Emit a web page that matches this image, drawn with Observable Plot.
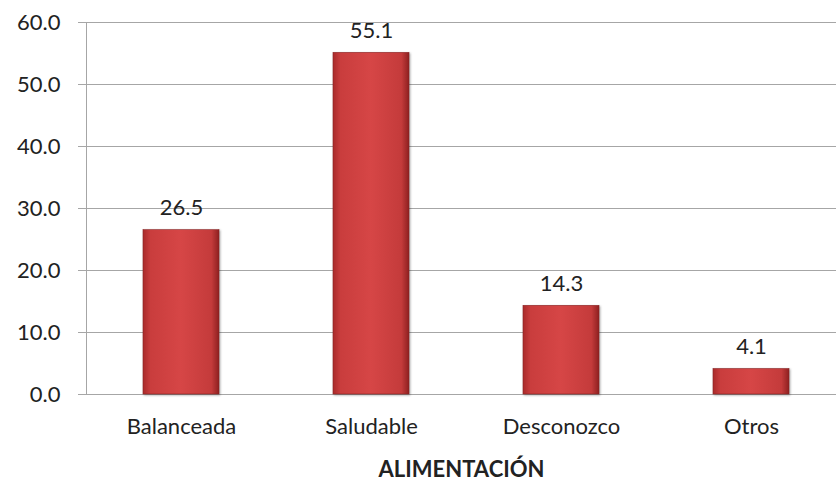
<!DOCTYPE html>
<html>
<head>
<meta charset="utf-8">
<script src="https://cdn.jsdelivr.net/npm/d3@7"></script>
<script src="https://cdn.jsdelivr.net/npm/@observablehq/plot@0.6"></script>
<style>
  html, body { margin: 0; padding: 0; background: #fff; }
  #chart { width: 836px; height: 480px; overflow: hidden; }
  .bars rect { filter: drop-shadow(1px 1px 1px rgba(0,0,0,0.35)); }
</style>
</head>
<body>
<div id="chart"></div>
<script>
const categories = ["Balanceada", "Saludable", "Desconozco", "Otros"];
const values = [26.5, 55.1, 14.3, 4.1];
const yTicks = [0, 10, 20, 30, 40, 50, 60];
const xTitle = "ALIMENTACIÓN";

const data = categories.map((c, i) => ({category: c, value: values[i]}));

const defs = () => {
  const d = d3.create("svg:defs");
  const g = d.append("linearGradient").attr("id", "barGrad").attr("x1", 0).attr("x2", 1).attr("y1", 0).attr("y2", 0);
  g.append("stop").attr("offset", "0%").attr("stop-color", "#a92a2a");
  g.append("stop").attr("offset", "10%").attr("stop-color", "#c93d3d");
  g.append("stop").attr("offset", "50%").attr("stop-color", "#d64646");
  g.append("stop").attr("offset", "90%").attr("stop-color", "#c43b3b");
  g.append("stop").attr("offset", "100%").attr("stop-color", "#8e2020");
  return d.node();
};

const fontFamily = "Lato, 'Open Sans', sans-serif";

const chart = Plot.plot({
  width: 836,
  height: 480,
  marginTop: 22,
  marginBottom: 86,
  marginLeft: 86,
  marginRight: 0,
  style: {fontFamily, fontSize: "22px", color: "#222", background: "#fff"},
  x: {
    type: "band",
    domain: categories,
    range: [86, 846],
    paddingInner: 0.6,
    paddingOuter: 0.3,
    label: null
  },
  y: {domain: [0, 60], label: null},
  marks: [
    defs,
    Plot.gridY(yTicks, {stroke: "#a6a6a6", strokeOpacity: 1}),
    Plot.ruleX([categories[0]], {x: d => d, dx: -95, y1: 0, y2: 60, stroke: "#a6a6a6", strokeWidth: 1}),
    Plot.axisY({
      ticks: yTicks,
      tickFormat: d => d.toFixed(1),
      tickSize: 8,
      tickPadding: 18,
      stroke: "#a6a6a6",
      fontSize: 22,
      fill: "#222",
      label: null
    }),
    Plot.axisX({
      tickSize: 0,
      tickPadding: 24,
      fontSize: 22,
      fill: "#222",
      label: xTitle,
      labelAnchor: "center",
      labelOffset: 82,
      labelArrow: "none"
    }),
    Plot.barY(data, {x: "category", y: "value", fill: "url(#barGrad)", stroke: "#8a2222", strokeWidth: 0.6, className: "bars"}),
    Plot.text(data, {x: "category", y: "value", text: d => d.value.toFixed(1), dy: -15, lineAnchor: "bottom", fontSize: 22, fill: "#222"})
  ]
});

chart.querySelectorAll("g[aria-label='x-axis label']").forEach(el => {
  el.setAttribute("font-weight", "bold");
});
document.getElementById("chart").appendChild(chart);
</script>
</body>
</html>
